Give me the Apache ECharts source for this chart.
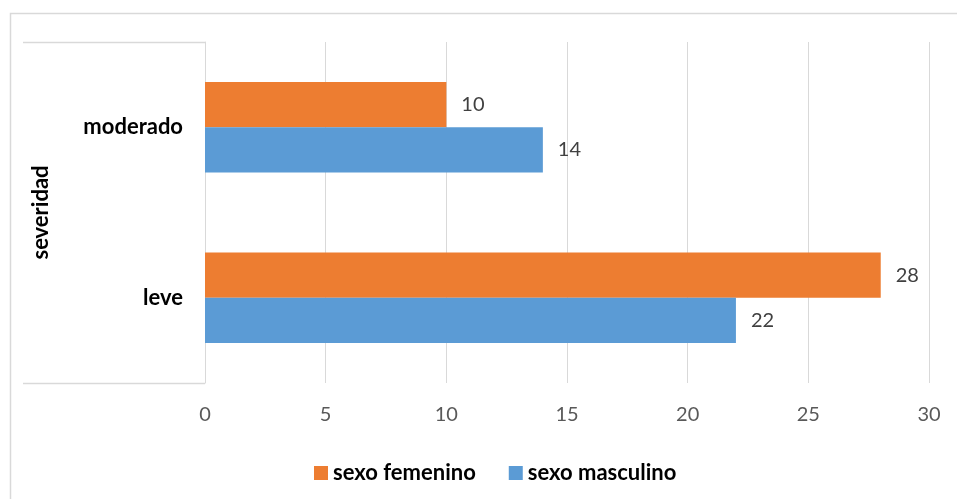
<!DOCTYPE html>
<html>
<head>
<meta charset="utf-8">
<style>
  html, body { margin: 0; padding: 0; background: #fff; }
  #chart { width: 957px; height: 499px; }
</style>
<script src="https://cdn.jsdelivr.net/npm/echarts@6/dist/echarts.min.js"></script>
</head>
<body>
<div id="chart"></div>
<script>
// Severity categories, bottom to top
const categories = ['leve', 'moderado'];
const femenino = [28, 10];
const masculino = [22, 14];
const xTicks = [0, 5, 10, 15, 20, 25, 30];

const FONT = 'Lato, "Open Sans", "Liberation Sans", sans-serif';
const GRID = { left: 205, right: 28, top: 42, bottom: 116 };
const W = 957, H = 499;

const chart = echarts.init(document.getElementById('chart'), null, { renderer: 'canvas' });

const labelStyle = {
  show: true,
  position: 'right',
  distance: 15,
  color: '#404040',
  fontFamily: FONT,
  fontSize: 20
};

chart.setOption({
  animation: false,
  backgroundColor: '#fff',
  grid: { left: GRID.left, right: GRID.right, top: GRID.top, bottom: GRID.bottom, containLabel: false },
  legend: {
    data: ['sexo femenino', 'sexo masculino'],
    top: 457,
    left: 309,
    itemWidth: 14,
    itemHeight: 14,
    itemGap: 33,
    icon: 'rect',
    textStyle: { fontFamily: FONT, fontSize: 22, fontWeight: 'bold', color: '#000' }
  },
  xAxis: {
    type: 'value',
    min: xTicks[0],
    max: xTicks[xTicks.length - 1],
    interval: xTicks[1] - xTicks[0],
    axisLine: { show: false },
    axisTick: { show: false },
    splitLine: { show: true, lineStyle: { color: '#d9d9d9', width: 1 } },
    axisLabel: { color: '#595959', fontFamily: FONT, fontSize: 20, margin: 22 }
  },
  yAxis: {
    type: 'category',
    data: categories,
    name: 'severidad',
    nameLocation: 'middle',
    nameRotate: 90,
    nameGap: 153,
    nameTextStyle: { fontFamily: FONT, fontSize: 22, fontWeight: 'bold', color: '#000' },
    axisLine: { show: true, lineStyle: { color: '#d9d9d9', width: 1 } },
    axisTick: { show: false },
    axisLabel: { color: '#000', fontFamily: FONT, fontSize: 22, fontWeight: 'bold', margin: 22 }
  },
  series: [
    {
      name: 'sexo femenino',
      type: 'bar',
      data: femenino,
      barGap: '0%',
      barCategoryGap: '47%',
      itemStyle: { color: '#ed7d31' },
      label: labelStyle
    },
    {
      name: 'sexo masculino',
      type: 'bar',
      data: masculino,
      barGap: '0%',
      barCategoryGap: '47%',
      itemStyle: { color: '#5b9bd5' },
      label: labelStyle
    }
  ],
  graphic: [
    // chart area frame
    {
      type: 'rect',
      shape: { x: 10.5, y: 13.5, width: W, height: H },
      style: { fill: 'none', stroke: '#d9d9d9', lineWidth: 1.5 },
      silent: true
    },
    // category group brackets at the top and bottom of the axis
    {
      type: 'line',
      shape: { x1: 23, y1: GRID.top + 0.5, x2: GRID.left, y2: GRID.top + 0.5 },
      style: { stroke: '#d9d9d9', lineWidth: 1.5 },
      silent: true
    },
    {
      type: 'line',
      shape: { x1: 23, y1: H - GRID.bottom + 0.5, x2: GRID.left, y2: H - GRID.bottom + 0.5 },
      style: { stroke: '#d9d9d9', lineWidth: 1.5 },
      silent: true
    }
  ]
});
</script>
</body>
</html>
